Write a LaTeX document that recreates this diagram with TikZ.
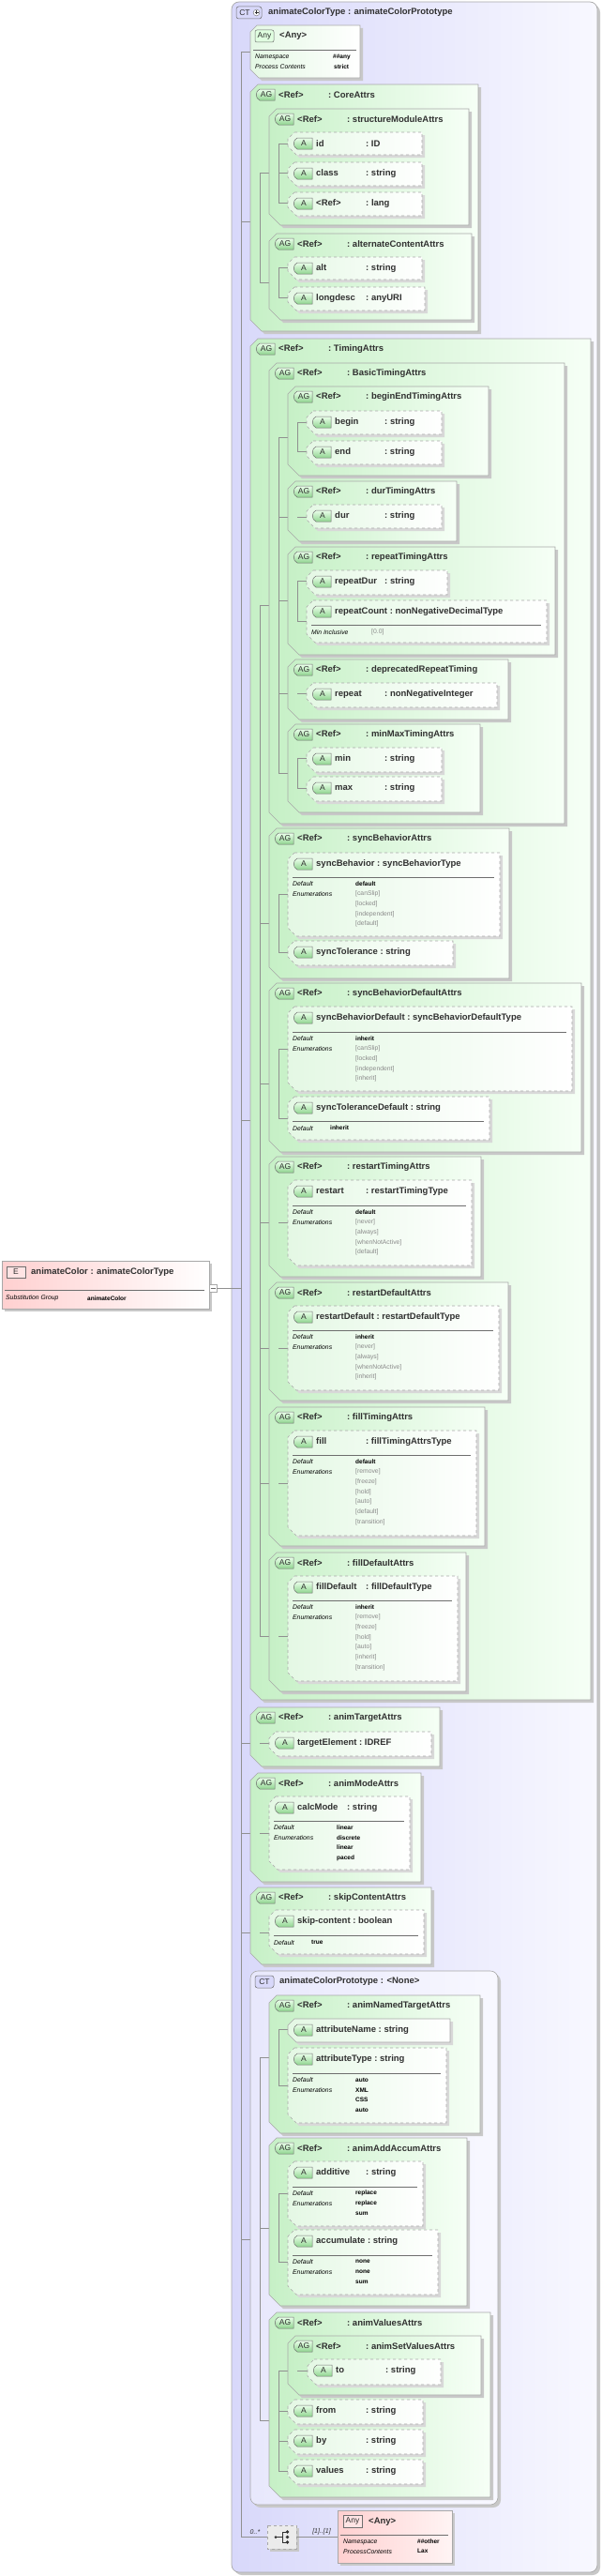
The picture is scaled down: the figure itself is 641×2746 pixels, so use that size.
\documentclass[tikz,border=0pt]{standalone}
\usepackage{fontspec}
\setmainfont{Liberation Sans}
\definecolor{txt}{HTML}{303030}
\definecolor{bord}{HTML}{A8A8A8}
\definecolor{shad}{HTML}{C8C8C8}
\definecolor{agL}{HTML}{C6F0C6}
\definecolor{agR}{HTML}{F6FFF6}
\definecolor{atL}{HTML}{E4F8E4}
\definecolor{atR}{HTML}{FFFFFF}
\definecolor{lavL}{HTML}{D8D8FA}
\definecolor{lavR}{HTML}{F8F8FF}
\definecolor{pinkL}{HTML}{FFD0D0}
\definecolor{pinkR}{HTML}{FFF4F4}
\definecolor{enumg}{HTML}{8A8A8A}
\definecolor{line}{HTML}{909090}
\tikzset{
 lbl/.style={anchor=west,inner sep=0pt,text=txt,font=\fontsize{9.5}{11}\selectfont\bfseries},
 keyt/.style={anchor=west,inner sep=0pt,text=black,font=\fontsize{6.8}{8}\selectfont\itshape},
 valt/.style={anchor=west,inner sep=0pt,text=black,font=\fontsize{6.5}{8}\selectfont\bfseries},
 enumt/.style={anchor=west,inner sep=0pt,text=enumg,font=\fontsize{6.8}{8}\selectfont},
 icont/.style={inner sep=0pt,text=txt,font=\fontsize{8.5}{9}\selectfont},
 conn/.style={draw=line,line width=0.5pt},
}
\newcommand\nt[2]{\setbox0\hbox{#1}\ifdim\wd0<49pt\hbox to 53pt{#1\hfil}\else\hbox{#1\ }\fi:\ #2}
\newcommand\chamf[6]{({#1+#5},#2) -- (#3,#2) -- (#3,#4) -- ({#1+#6},#4) -- (#1,{#4-#6}) -- (#1,{#2+#5}) -- cycle}
\newcommand\tagicon[4]{% x, yc, text, name
 \path[draw=txt!70,line width=0.5pt,top color=green!8,bottom color=green!45!gray!60] ({#1+21},{#2-6}) -- ({#1+5},{#2-6}) .. controls (#1,{#2-4}) and (#1,{#2+4}) .. ({#1+5},{#2+6}) -- ({#1+21},{#2+6}) -- cycle;
 \node[icont] (#4) at ({#1+12},#2) {#3};}
\newcommand\agbox[6]{% x1 y1 x2 y2 name nodename
 \fill[shad] \chamf{#1+3}{#2+3}{#3+3}{#4+3}{8}{12};
 \path[draw=bord,line width=0.6pt,left color=agL,right color=agR] \chamf{#1}{#2}{#3}{#4}{8}{12};
 \tagicon{#1+5}{#2+11}{AG}{#6i}
 \node[lbl] (#6) at ({#1+30},{#2+11}) {\nt{<Ref>}{#5}};}
\newcommand\atbox[7]{% x1 y1 x2 y2 name type nodename
 \fill[shad!70] \chamf{#1+3}{#2+3}{#3+3}{#4+3}{7}{9};
 \path[draw=bord,dashed,line width=0.6pt,left color=atL,right color=atR] \chamf{#1}{#2}{#3}{#4}{7}{9};
 \tagicon{#1+5}{#2+12}{A}{#7i}
 \node[lbl] (#7) at ({#1+30},{#2+12}) {\nt{#5}{#6}};}
\newcommand\engr[1]{[#1]}
\newcommand\enbl[1]{\textcolor{black}{\bfseries #1}}
\newcommand\dtl[7]{% x1 sep x2 default wrapper style list
 \draw[line width=0.6pt,color=txt!70] ({#1+5},#2) -- ({#3-6},#2);
 \node[keyt] at ({#1+5},{#2+7}) {Default};
 \node[valt] at ({#1+72},{#2+7}) {#4};
 \node[keyt] at ({#1+5},{#2+18}) {Enumerations};
 \foreach \v [count=\i] in {#7} \node[#6] at ({#1+72},{#2+7+\i*10.8}) {#5{\v}};}
\newcommand\tree[2]{% xl, list y/len
 \foreach \y/\l [count=\k] in {#2} {\draw[conn] (#1,\y) -- ({#1+\l},\y);}}
\newcommand\vl[3]{\draw[conn] (#1,#2) -- (#1,#3);}
\begin{document}
\begin{tikzpicture}[x=1pt,y=-1pt]
\useasboundingbox (0,0) rectangle (641,2746);
% ---------- main CT
\fill[shad] (250,5) [rounded corners=8pt] -- (640,5) -- (640,2745) -- (250,2745) -- cycle;
\path[draw=bord,line width=0.7pt,left color=lavL,right color=lavR,rounded corners=8pt] (247,2) rectangle (637,2742);
\path[draw=txt!70,fill=lavL,rounded corners=2.5pt,line width=0.5pt] (252,7) rectangle (279,20);
\node[icont] (cticon) at (261,13.5) {CT};
\fill[white,draw=txt!70,line width=0.4pt] (273.5,13.5) circle (3.4);
\draw[txt,line width=0.8pt] (271.5,13.5)--(275.5,13.5) (273.5,11.5)--(273.5,15.5);
\node[lbl] (ctmain) at (286,13) {animateColorType : animateColorPrototype};
% ---------- element
\fill[shad] (5,1347) rectangle (226,1398);
\path[draw=bord,line width=0.6pt,left color=pinkL,right color=white] (2,1344) rectangle (223,1395);
\path[draw=txt!70,fill=pinkL!80!red!30,line width=0.5pt] (7,1350) rectangle (27,1362);
\node[icont] (eicon) at (17,1356) {E};
\node[lbl] (elem) at (33,1356) {animateColor : animateColorType};
\draw[line width=0.6pt,color=txt!70] (5,1375) -- (218,1375);
\node[keyt] (sgk) at (6,1384) {Substitution Group};
\node[valt] (sgv) at (93,1384) {animateColor};
\node[draw=bord,fill=white,minimum width=8pt,minimum height=8pt,inner sep=0pt] (pm) at (227,1373) {};
\draw[txt!70,line width=0.5pt] (224.5,1373) -- (229.5,1373);
\draw[conn] (pm.east) -- (247,1373);
% ---------- tree lines (root)
\vl{257}{55}{2704}
\tree{257}{55/10,236/20,1194/20,1858/20,1954/20,2060/20,2387/20}
\draw[conn] (247,1373) -- (257,1373);
% ---------- top Any
\fill[shad] \chamf{270}{30}{387}{86}{7}{9};
\path[draw=bord,line width=0.6pt,left color=atL,right color=atR] \chamf{267}{27}{384}{83}{7}{9};
\path[draw=txt!70,fill=green!12,line width=0.5pt,rounded corners=2pt] (272,32) rectangle (292,45);
\node[icont] (anyi) at (282,38.5) {Any};
\node[lbl] (any1) at (298,38) {<Any>};
\draw[line width=0.6pt,color=txt!70] (270,53) -- (380,53);
\node[keyt] at (272,61) {Namespace};
\node[keyt] at (272,71) {Process Contents};
\node[valt] at (355,61) {\#\#any};
\node[valt] at (356,71) {strict};
% ---------- CoreAttrs
\agbox{267}{90}{510}{353}{CoreAttrs}{core}
\vl{277}{184}{301}\tree{277}{184/20,301/20}
\agbox{287}{116}{500}{240}{structureModuleAttrs}{sma}
\vl{297}{153}{216}\tree{297}{153/10,184/10,216/10}
\atbox{307}{141}{450}{165}{id}{ID}{aid}
\atbox{307}{173}{450}{198}{class}{string}{aclass}
\atbox{307}{205}{450}{230}{<Ref>}{lang}{alang}
\agbox{287}{249}{503}{341}{alternateContentAttrs}{aca}
\vl{297}{285}{317}\tree{297}{285/10,317/10}
\atbox{307}{274}{450}{298}{alt}{string}{aalt}
\atbox{307}{306}{453}{331}{longdesc}{anyURI}{alongdesc}
% ---------- TimingAttrs
\agbox{267}{361}{630}{1812}{TimingAttrs}{timing}
\vl{277}{645}{1744}\tree{277}{645/20,984/20,1155/20,1303/20,1437/20,1581/20,1744/20}
\agbox{287}{387}{602}{878}{BasicTimingAttrs}{basic}
\vl{297}{466}{824}\tree{297}{466/20,551/20,640/20,739/20,824/20}
\agbox{307}{412}{521}{507}{beginEndTimingAttrs}{bet}
\vl{317}{450}{481}\tree{317}{450/10,481/10}
\atbox{327}{438}{471}{463}{begin}{string}{abegin}
\atbox{327}{470}{471}{495}{end}{string}{aend}
\agbox{307}{513}{487}{577}{durTimingAttrs}{durt}
\tree{317}{551/10}
\atbox{327}{538}{471}{563}{dur}{string}{adur}
\agbox{307}{583}{592}{698}{repeatTimingAttrs}{rept}
\vl{317}{619}{662}\tree{317}{619/10,662/10}
\atbox{327}{608}{477}{634}{repeatDur}{string}{arepdur}
\atbox{327}{640}{583}{685}{repeatCount}{nonNegativeDecimalType}{arepcount}
\draw[line width=0.6pt,color=txt!70] (332,666) -- (577,666);
\node[keyt] at (332,674) {Min Inclusive};
\node[enumt] at (396,674) {[0.0]};
\agbox{307}{703}{542}{767}{deprecatedRepeatTiming}{dep}
\tree{317}{739/10}
\atbox{327}{728}{530}{754}{repeat}{nonNegativeInteger}{arepeat}
\agbox{307}{772}{512}{866}{minMaxTimingAttrs}{mm}
\vl{317}{808}{840}\tree{317}{808/10,840/10}
\atbox{327}{797}{471}{823}{min}{string}{amin}
\atbox{327}{828}{471}{854}{max}{string}{amax}
% syncBehaviorAttrs
\agbox{287}{883}{543}{1043}{syncBehaviorAttrs}{sba}
\vl{297}{953}{1015}\tree{297}{953/10,1015/10}
\atbox{307}{909}{533}{998}{syncBehavior}{syncBehaviorType}{async}
\dtl{307}{935}{533}{default}{\engr}{enumt}{canSlip,locked,independent,default}
\atbox{307}{1003}{483}{1029}{syncTolerance}{string}{asynctol}
% syncBehaviorDefaultAttrs
\agbox{287}{1048}{620}{1228}{syncBehaviorDefaultAttrs}{sbda}
\vl{297}{1118}{1192}\tree{297}{1118/10,1192/10}
\atbox{307}{1073}{610}{1163}{syncBehaviorDefault}{syncBehaviorDefaultType}{asyncdef}
\dtl{307}{1100}{610}{inherit}{\engr}{enumt}{canSlip,locked,independent,inherit}
\atbox{307}{1169}{522}{1215}{syncToleranceDefault}{string}{asynctoldef}
\draw[line width=0.6pt,color=txt!70] (312,1195) -- (516,1195);
\node[keyt] at (312,1203) {Default};
\node[valt] at (352,1202) {inherit};
% restartTimingAttrs
\agbox{287}{1233}{513}{1361}{restartTimingAttrs}{rta}
\tree{297}{1303/10}
\atbox{307}{1258}{503}{1349}{restart}{restartTimingType}{arestart}
\dtl{307}{1285}{503}{default}{\engr}{enumt}{never,always,whenNotActive,default}
% restartDefaultAttrs
\agbox{287}{1367}{542}{1493}{restartDefaultAttrs}{rda}
\tree{297}{1437/10}
\atbox{307}{1392}{532}{1482}{restartDefault}{restartDefaultType}{arestartdef}
\dtl{307}{1418}{532}{inherit}{\engr}{enumt}{never,always,whenNotActive,inherit}
% fillTimingAttrs
\agbox{287}{1500}{517}{1648}{fillTimingAttrs}{fta}
\tree{297}{1581/10}
\atbox{307}{1525}{508}{1637}{fill}{fillTimingAttrsType}{afill}
\dtl{307}{1551}{508}{default}{\engr}{enumt}{remove,freeze,hold,auto,default,transition}
% fillDefaultAttrs
\agbox{287}{1655}{497}{1803}{fillDefaultAttrs}{fda}
\tree{297}{1744/10}
\atbox{307}{1680}{488}{1792}{fillDefault}{fillDefaultType}{afilldef}
\dtl{307}{1706}{488}{inherit}{\engr}{enumt}{remove,freeze,hold,auto,inherit,transition}
% ---------- animTargetAttrs
\agbox{267}{1820}{469}{1883}{animTargetAttrs}{ata}
\tree{277}{1858/10}
\atbox{287}{1846}{460}{1872}{targetElement}{IDREF}{atarget}
% animModeAttrs
\agbox{267}{1890}{449}{2006}{animModeAttrs}{ama}
\tree{277}{1954/10}
\atbox{287}{1915}{437}{1993}{calcMode}{string}{acalc}
\dtl{287}{1941}{437}{linear}{\enbl}{valt}{discrete,linear,paced}
% skipContentAttrs
\agbox{267}{2012}{460}{2094}{skipContentAttrs}{sca}
\tree{277}{2060/10}
\atbox{287}{2036}{452}{2083}{skip-content}{boolean}{askip}
\draw[line width=0.6pt,color=txt!70] (292,2063) -- (446,2063);
\node[keyt] at (292,2071) {Default};
\node[valt] at (332,2070) {true};
% ---------- CT prototype
\fill[shad] (270,2104) [rounded corners=8pt] -- (534,2104) -- (534,2673) -- (270,2673) -- cycle;
\path[draw=bord,line width=0.6pt,left color=lavL!60,right color=lavR,rounded corners=8pt] (267,2101) rectangle (531,2670);
\path[draw=txt!70,fill=lavL,rounded corners=2.5pt,line width=0.5pt] (272,2106) rectangle (292,2119);
\node[icont] (cticon2) at (282,2112.5) {CT};
\node[lbl] (ctproto) at (298,2112) {animateColorPrototype : <None>};
\vl{277}{2193}{2580}\tree{277}{2193/20,2375/20,2580/20}
\agbox{287}{2127}{512}{2274}{animNamedTargetAttrs}{anta}
\vl{297}{2163}{2223}\tree{297}{2163/10,2223/10}
\fill[shad!70] \chamf{310}{2155}{483}{2180}{7}{9};
\path[draw=bord,line width=0.6pt,left color=atL,right color=atR] \chamf{307}{2152}{480}{2177}{7}{9};
\tagicon{312}{2164}{A}{aattrnamei}
\node[lbl] (aattrname) at (337,2164) {\nt{attributeName}{string}};
\atbox{307}{2183}{476}{2263}{attributeType}{string}{aattrtype}
\dtl{307}{2210}{476}{auto}{\enbl}{valt}{XML,CSS,auto}
\agbox{287}{2279}{498}{2458}{animAddAccumAttrs}{aaa}
\vl{297}{2338}{2411}\tree{297}{2338/10,2411/10}
\atbox{307}{2304}{451}{2373}{additive}{string}{aadd}
\dtl{307}{2331}{451}{replace}{\enbl}{valt}{replace,sum}
\atbox{307}{2377}{467}{2446}{accumulate}{string}{aacc}
\dtl{307}{2404}{467}{none}{\enbl}{valt}{none,sum}
\agbox{287}{2465}{523}{2662}{animValuesAttrs}{ava}
\vl{297}{2527}{2634}\tree{297}{2527/20,2570/10,2602/10,2634/10}
\agbox{307}{2490}{513}{2553}{animSetValuesAttrs}{asva}
\tree{317}{2527/11}
\atbox{328}{2515}{470}{2542}{to}{string}{ato}
\atbox{307}{2558}{451}{2584}{from}{string}{afrom}
\atbox{307}{2590}{451}{2616}{by}{string}{aby}
\atbox{307}{2622}{451}{2648}{values}{string}{avalues}
% ---------- sequence + any other
\draw[conn] (257,2704) -- (285,2704);
\node[anchor=south,inner sep=1pt,font=\fontsize{7}{8}\selectfont\itshape,text=txt] (occ) at (272,2703) {0..*};
\fill[shad] (288,2695) rectangle (319,2720);
\path[draw=bord,dashed,fill=black!8,line width=0.5pt] (285,2692) rectangle (316,2717);
\node[inner sep=0pt,minimum size=0pt] (seq) at (300.5,2704.5) {};
\draw[txt,line width=0.7pt] (293,2704.5) -- (301,2704.5) (301,2699) -- (301,2710)  (301,2699)--(305,2699) (301,2710)--(305,2710);
\fill[txt] (294,2704.5) circle (1.5) (306.5,2699) circle (1.8) (306.5,2704.5) circle (1.8) (306.5,2710) circle (1.8);
\draw[conn] (316,2704) -- (360,2704);
\node[anchor=south,inner sep=1pt,font=\fontsize{7}{8}\selectfont\itshape,text=txt] (occ2) at (343,2703) {[1]..[1]};
\fill[shad] (363,2679) rectangle (485,2735);
\path[draw=bord,line width=0.6pt,left color=pinkL,right color=pinkR] (360,2676) rectangle (482,2732);
\path[draw=txt!70,fill=pinkL!80!red!30,line width=0.5pt] (366,2681) rectangle (386,2694);
\node[icont] (anyi2) at (376,2687.5) {Any};
\node[lbl] (any2) at (393,2688) {<Any>};
\draw[line width=0.6pt,color=txt!70] (363,2702) -- (478,2702);
\node[keyt] at (366,2710) {Namespace};
\node[keyt] at (366,2720) {ProcessContents};
\node[valt] at (445,2709) {\#\#other};
\node[valt] at (445,2719) {Lax};
\end{tikzpicture}
\end{document}
